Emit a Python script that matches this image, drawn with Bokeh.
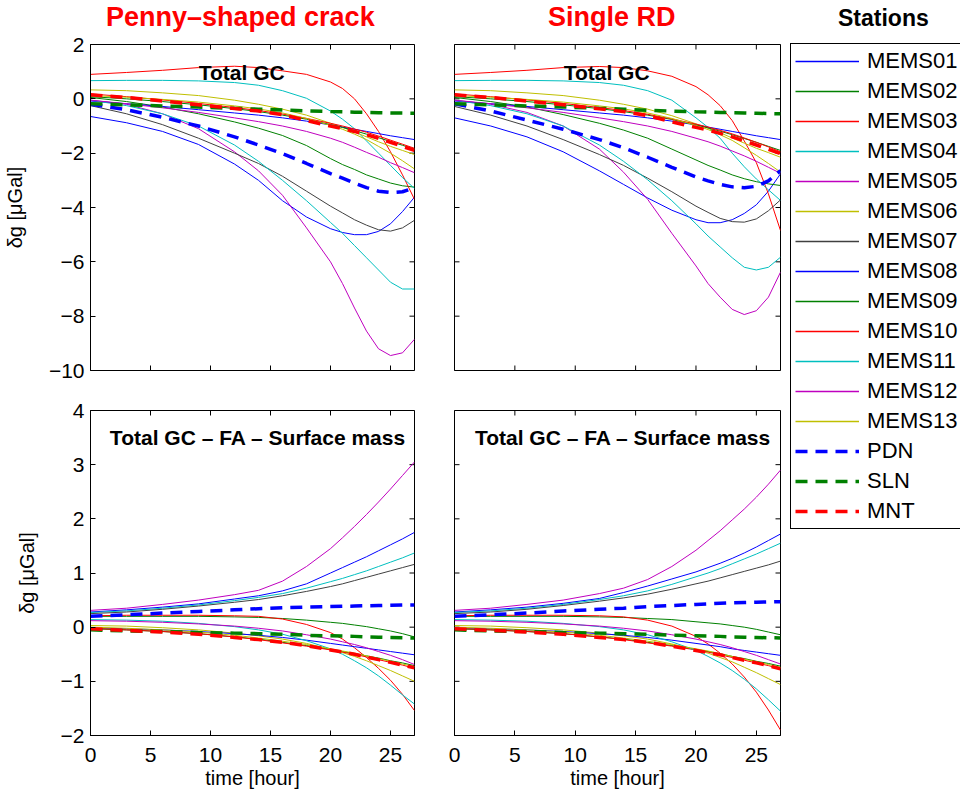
import math
from bokeh.plotting import figure
from bokeh.models import Range1d, FixedTicker, CustomJSTickFormatter, Label, Legend, LegendItem, Div
from bokeh.layouts import row, column
from bokeh.embed import file_html
from bokeh.resources import INLINE
from bokeh.core.properties import value

# ---------------- data ----------------
hours = [0, 3, 6, 9, 12, 14, 16, 18, 20, 21, 22, 23, 24, 25, 26, 27]

stations = ["MEMS01", "MEMS02", "MEMS03", "MEMS04", "MEMS05", "MEMS06", "MEMS07",
            "MEMS08", "MEMS09", "MEMS10", "MEMS11", "MEMS12", "MEMS13", "PDN", "SLN", "MNT"]
station_colors = ["#0000ff", "#008000", "#ff0000", "#00bfbf", "#bf00bf", "#bfbf00", "#404040",
                  "#0000ff", "#008000", "#ff0000", "#00bfbf", "#bf00bf", "#bfbf00",
                  "#0000ff", "#008000", "#ff0000"]
station_dashed = [False] * 13 + [True] * 3

x_ticks = [0, 5, 10, 15, 20, 25]
top_y_ticks = [-10, -8, -6, -4, -2, 0, 2]
bottom_y_ticks = [-2, -1, 0, 1, 2, 3, 4]

column_titles = ["Penny\u2013shaped crack", "Single RD"]
legend_title = "Stations"
top_note = "Total GC"
bottom_note = "Total GC \u2013 FA \u2013 Surface mass"
x_label = "time [hour]"
y_label = "\u03b4g [\u03bcGal]"

penny_total = {
    "MEMS01": [-0.65, -0.88, -1.2, -1.68, -2.4, -3.0, -3.75, -4.35, -4.78, -4.92, -5.0, -5.0, -4.88, -4.6, -4.15, -3.62],
    "MEMS02": [0.05, -0.1, -0.3, -0.55, -0.85, -1.08, -1.35, -1.72, -2.2, -2.42, -2.6, -2.8, -2.95, -3.1, -3.2, -3.25],
    "MEMS03": [0.9, 0.97, 1.05, 1.15, 1.2, 1.15, 1.03, 0.9, 0.62, 0.38, 0.0, -0.55, -1.2, -1.95, -2.8, -3.7],
    "MEMS04": [0.67, 0.68, 0.68, 0.66, 0.6, 0.5, 0.3, 0.02, -0.45, -0.75, -1.1, -1.55, -2.0, -2.45, -2.9, -3.3],
    "MEMS05": [-0.05, -0.2, -0.55, -1.1, -1.95, -2.65, -3.55, -4.75, -6.0, -6.8, -7.7, -8.55, -9.2, -9.45, -9.35, -8.85],
    "MEMS06": [0.33, 0.3, 0.22, 0.12, -0.05, -0.2, -0.38, -0.6, -0.9, -1.05, -1.22, -1.4, -1.58, -1.75, -1.9, -2.05],
    "MEMS07": [-0.25, -0.55, -0.95, -1.45, -2.0, -2.38, -2.85, -3.4, -3.95, -4.2, -4.45, -4.65, -4.82, -4.87, -4.75, -4.47],
    "MEMS08": [-0.08, -0.18, -0.28, -0.4, -0.52, -0.6, -0.7, -0.82, -0.96, -1.04, -1.12, -1.2, -1.28, -1.36, -1.43, -1.5],
    "MEMS09": [0.08, 0.0, -0.1, -0.22, -0.36, -0.47, -0.6, -0.75, -0.95, -1.05, -1.17, -1.3, -1.43, -1.57, -1.71, -1.85],
    "MEMS10": [0.18, 0.08, -0.04, -0.17, -0.32, -0.43, -0.56, -0.72, -0.9, -1.0, -1.11, -1.23, -1.37, -1.52, -1.67, -1.82],
    "MEMS11": [-0.05, -0.25, -0.55, -1.0, -1.7, -2.3, -3.0, -3.75, -4.55, -4.95, -5.4, -5.85, -6.3, -6.75, -7.0, -7.0],
    "MEMS12": [-0.05, -0.18, -0.33, -0.5, -0.7, -0.84, -1.0, -1.2, -1.45, -1.6, -1.78, -1.97, -2.15, -2.35, -2.53, -2.72],
    "MEMS13": [0.12, 0.06, -0.02, -0.12, -0.26, -0.37, -0.52, -0.72, -0.98, -1.12, -1.3, -1.5, -1.75, -2.0, -2.28, -2.58],
    "PDN": [-0.2, -0.4, -0.68, -1.0, -1.4, -1.7, -2.02, -2.38, -2.75, -2.92, -3.1, -3.27, -3.4, -3.45, -3.42, -3.27],
    "SLN": [-0.18, -0.22, -0.26, -0.3, -0.35, -0.38, -0.41, -0.44, -0.47, -0.48, -0.49, -0.5, -0.51, -0.52, -0.525, -0.53],
    "MNT": [0.15, 0.05, -0.08, -0.22, -0.36, -0.45, -0.58, -0.8, -1.0, -1.1, -1.2, -1.32, -1.45, -1.6, -1.75, -1.9],
}

rd_total = {
    "MEMS01": [-0.7, -1.0, -1.4, -1.95, -2.65, -3.15, -3.65, -4.1, -4.45, -4.56, -4.56, -4.45, -4.22, -3.9, -3.4, -2.76],
    "MEMS02": [0.05, -0.1, -0.3, -0.58, -0.9, -1.15, -1.45, -1.85, -2.25, -2.45, -2.62, -2.8, -2.94, -3.05, -3.13, -3.19],
    "MEMS03": [0.9, 0.97, 1.05, 1.15, 1.19, 1.15, 1.03, 0.83, 0.45, 0.15, -0.25, -0.8, -1.55, -2.35, -3.5, -4.85],
    "MEMS04": [0.67, 0.68, 0.68, 0.66, 0.6, 0.5, 0.3, -0.05, -0.7, -1.05, -1.45, -2.0, -2.5, -2.95, -3.35, -3.74],
    "MEMS05": [-0.05, -0.2, -0.5, -1.0, -1.85, -2.7, -3.7, -4.95, -6.15, -6.8, -7.3, -7.75, -7.94, -7.8, -7.3, -6.38],
    "MEMS06": [0.33, 0.3, 0.22, 0.12, -0.05, -0.2, -0.38, -0.62, -0.92, -1.08, -1.25, -1.44, -1.63, -1.82, -1.98, -2.15],
    "MEMS07": [-0.28, -0.6, -1.0, -1.5, -2.05, -2.45, -2.92, -3.42, -3.95, -4.18, -4.4, -4.52, -4.54, -4.42, -4.12, -3.72],
    "MEMS08": [-0.08, -0.18, -0.28, -0.4, -0.52, -0.6, -0.7, -0.82, -0.96, -1.04, -1.12, -1.2, -1.28, -1.36, -1.43, -1.5],
    "MEMS09": [0.08, 0.0, -0.1, -0.22, -0.36, -0.47, -0.6, -0.76, -0.96, -1.07, -1.19, -1.32, -1.46, -1.6, -1.75, -1.9],
    "MEMS10": [0.18, 0.08, -0.04, -0.17, -0.32, -0.43, -0.57, -0.74, -0.93, -1.04, -1.16, -1.29, -1.44, -1.6, -1.77, -1.95],
    "MEMS11": [-0.05, -0.25, -0.55, -1.0, -1.7, -2.3, -2.98, -3.75, -4.6, -5.05, -5.45, -5.85, -6.2, -6.3, -6.2, -5.83],
    "MEMS12": [-0.05, -0.18, -0.33, -0.5, -0.7, -0.84, -1.0, -1.2, -1.45, -1.58, -1.74, -1.92, -2.1, -2.3, -2.52, -2.74],
    "MEMS13": [0.12, 0.06, -0.02, -0.12, -0.26, -0.37, -0.52, -0.72, -0.98, -1.13, -1.32, -1.53, -1.8, -2.08, -2.38, -2.7],
    "PDN": [-0.18, -0.45, -0.78, -1.12, -1.5, -1.8, -2.15, -2.52, -2.88, -3.02, -3.15, -3.24, -3.27, -3.22, -3.02, -2.64],
    "SLN": [-0.18, -0.22, -0.26, -0.3, -0.35, -0.38, -0.42, -0.45, -0.48, -0.49, -0.5, -0.51, -0.52, -0.53, -0.54, -0.55],
    "MNT": [0.15, 0.05, -0.08, -0.22, -0.37, -0.47, -0.62, -0.85, -1.05, -1.15, -1.27, -1.4, -1.55, -1.7, -1.86, -2.02],
}

penny_corr = {
    "MEMS01": [0.28, 0.32, 0.37, 0.43, 0.52, 0.58, 0.67, 0.8, 1.0, 1.1, 1.2, 1.3, 1.41, 1.52, 1.63, 1.75],
    "MEMS02": [0.2, 0.2, 0.2, 0.2, 0.19, 0.18, 0.16, 0.13, 0.09, 0.07, 0.04, 0.01, -0.03, -0.07, -0.12, -0.18],
    "MEMS03": [0.21, 0.22, 0.22, 0.22, 0.21, 0.2, 0.15, 0.05, -0.1, -0.22, -0.38, -0.56, -0.76, -0.98, -1.24, -1.54],
    "MEMS04": [0.27, 0.3, 0.35, 0.41, 0.49, 0.55, 0.62, 0.72, 0.84, 0.9, 0.97, 1.04, 1.12, 1.2, 1.28, 1.37],
    "MEMS05": [0.31, 0.35, 0.42, 0.5, 0.6, 0.68, 0.85, 1.12, 1.45, 1.65, 1.86, 2.08, 2.31, 2.55, 2.8, 3.05],
    "MEMS06": [0.03, 0.02, -0.01, -0.05, -0.11, -0.16, -0.22, -0.3, -0.41, -0.47, -0.54, -0.62, -0.71, -0.8, -0.9, -1.0],
    "MEMS07": [0.25, 0.28, 0.33, 0.39, 0.46, 0.51, 0.58, 0.66, 0.75, 0.8, 0.86, 0.92, 0.98, 1.04, 1.1, 1.16],
    "MEMS08": [-0.01, -0.03, -0.05, -0.08, -0.12, -0.15, -0.19, -0.24, -0.3, -0.33, -0.36, -0.39, -0.42, -0.45, -0.48, -0.51],
    "MEMS09": [-0.03, -0.05, -0.08, -0.12, -0.18, -0.22, -0.28, -0.34, -0.41, -0.45, -0.49, -0.53, -0.57, -0.62, -0.66, -0.71],
    "MEMS10": [-0.02, -0.05, -0.08, -0.12, -0.18, -0.23, -0.29, -0.35, -0.42, -0.46, -0.5, -0.55, -0.6, -0.65, -0.7, -0.76],
    "MEMS11": [0.14, 0.13, 0.11, 0.07, 0.01, -0.05, -0.13, -0.25, -0.4, -0.5, -0.62, -0.75, -0.9, -1.07, -1.25, -1.42],
    "MEMS12": [0.12, 0.11, 0.09, 0.06, 0.02, -0.02, -0.07, -0.14, -0.22, -0.27, -0.32, -0.38, -0.45, -0.52, -0.6, -0.69],
    "MEMS13": [0.0, -0.02, -0.05, -0.09, -0.15, -0.2, -0.26, -0.32, -0.4, -0.44, -0.48, -0.53, -0.58, -0.63, -0.68, -0.73],
    "PDN": [0.2, 0.23, 0.26, 0.29, 0.32, 0.34, 0.36, 0.37, 0.38, 0.385, 0.39, 0.395, 0.4, 0.405, 0.41, 0.41],
    "SLN": [-0.05, -0.07, -0.08, -0.1, -0.11, -0.12, -0.13, -0.15, -0.16, -0.165, -0.17, -0.18, -0.185, -0.19, -0.195, -0.2],
    "MNT": [-0.03, -0.06, -0.09, -0.13, -0.19, -0.23, -0.28, -0.34, -0.42, -0.46, -0.5, -0.55, -0.6, -0.65, -0.7, -0.75],
}

rd_corr = {
    "MEMS01": [0.28, 0.32, 0.37, 0.44, 0.53, 0.64, 0.76, 0.89, 1.02, 1.1, 1.18, 1.27, 1.37, 1.48, 1.6, 1.72],
    "MEMS02": [0.2, 0.2, 0.2, 0.2, 0.19, 0.18, 0.16, 0.14, 0.1, 0.08, 0.06, 0.03, 0.0, -0.04, -0.09, -0.14],
    "MEMS03": [0.21, 0.22, 0.22, 0.22, 0.21, 0.19, 0.13, 0.02, -0.17, -0.31, -0.48, -0.68, -0.92, -1.2, -1.53, -1.9],
    "MEMS04": [0.27, 0.3, 0.35, 0.42, 0.51, 0.58, 0.67, 0.79, 0.93, 1.0, 1.08, 1.17, 1.26, 1.35, 1.45, 1.55],
    "MEMS05": [0.31, 0.35, 0.42, 0.5, 0.62, 0.72, 0.88, 1.12, 1.42, 1.6, 1.78, 1.98, 2.18, 2.4, 2.64, 2.9],
    "MEMS06": [0.03, 0.02, -0.01, -0.05, -0.11, -0.16, -0.22, -0.31, -0.42, -0.48, -0.56, -0.64, -0.74, -0.84, -0.95, -1.06],
    "MEMS07": [0.25, 0.28, 0.33, 0.4, 0.48, 0.54, 0.61, 0.7, 0.8, 0.85, 0.91, 0.97, 1.03, 1.09, 1.15, 1.22],
    "MEMS08": [-0.01, -0.03, -0.05, -0.08, -0.12, -0.15, -0.19, -0.24, -0.3, -0.33, -0.36, -0.4, -0.43, -0.46, -0.49, -0.52],
    "MEMS09": [-0.03, -0.05, -0.08, -0.12, -0.18, -0.22, -0.28, -0.34, -0.41, -0.45, -0.49, -0.54, -0.58, -0.63, -0.67, -0.72],
    "MEMS10": [-0.02, -0.05, -0.08, -0.12, -0.18, -0.23, -0.29, -0.35, -0.42, -0.46, -0.51, -0.56, -0.61, -0.66, -0.71, -0.77],
    "MEMS11": [0.14, 0.13, 0.11, 0.07, 0.01, -0.05, -0.14, -0.27, -0.43, -0.54, -0.66, -0.8, -0.96, -1.14, -1.34, -1.55],
    "MEMS12": [0.12, 0.11, 0.09, 0.06, 0.02, -0.02, -0.07, -0.14, -0.22, -0.27, -0.32, -0.38, -0.45, -0.52, -0.6, -0.68],
    "MEMS13": [0.0, -0.02, -0.05, -0.09, -0.15, -0.2, -0.26, -0.32, -0.4, -0.44, -0.49, -0.54, -0.59, -0.64, -0.69, -0.74],
    "PDN": [0.2, 0.23, 0.26, 0.3, 0.33, 0.35, 0.38, 0.4, 0.42, 0.43, 0.44, 0.45, 0.455, 0.46, 0.465, 0.47],
    "SLN": [-0.05, -0.07, -0.08, -0.1, -0.11, -0.12, -0.13, -0.15, -0.16, -0.165, -0.17, -0.18, -0.185, -0.19, -0.195, -0.2],
    "MNT": [-0.03, -0.06, -0.09, -0.13, -0.19, -0.23, -0.28, -0.35, -0.43, -0.47, -0.51, -0.56, -0.61, -0.66, -0.71, -0.77],
}

# ---------------- styling ----------------
FONT = "Liberation Sans"
X_MAX = 27
MINUS_FMT = "return tick < 0 ? '\\u2212' + Math.abs(tick) : String(tick);"
DASH = "12 8"
HEAD_H = 33            # height of the html strip carrying the titles


def edge_ticks(p, xs, ys):
    p.scatter(x=xs, y=ys, marker="dash", size=10, angle=0,
              line_color="black", line_width=1)


def edge_ticks_v(p, xs, ys):
    p.scatter(x=xs, y=ys, marker="dash", size=10, angle=math.pi / 2,
              line_color="black", line_width=1)


def head(width, text, indent, size, line_h, color):
    return Div(text=text, width=width, height=HEAD_H, margin=(0, 0, 0, 0),
               styles={"font-family": FONT, "font-size": size, "font-weight": "bold",
                       "color": color, "line-height": line_h,
                       "text-indent": indent, "white-space": "nowrap",
                       "overflow": "visible"})


def make_panel(data, y_lo, y_hi, y_ticks, width, height, borders,
               show_x, show_y, note, note_x, note_y):
    p = figure(width=width, height=height, title=None,
               x_range=Range1d(0, X_MAX), y_range=Range1d(y_lo, y_hi),
               output_backend="svg", toolbar_location=None,
               min_border_left=borders[0], min_border_right=borders[1],
               min_border_top=borders[2], min_border_bottom=borders[3])
    p.background_fill_color = "white"
    p.border_fill_color = "white"
    p.xgrid.visible = False
    p.ygrid.visible = False
    p.outline_line_color = "black"
    p.outline_line_width = 1
    p.outline_line_alpha = 1.0

    xa = p.xaxis[0]
    ya = p.yaxis[0]
    xa.ticker = FixedTicker(ticks=x_ticks)
    ya.ticker = FixedTicker(ticks=y_ticks)
    for ax in (xa, ya):
        ax.major_tick_in = 5
        ax.major_tick_out = 0
        ax.minor_tick_line_color = None
        ax.axis_line_color = "black"
        ax.major_tick_line_color = "black"
        ax.major_label_text_font = FONT
        ax.major_label_text_font_size = "21px"
        ax.major_label_text_color = "black"
        ax.axis_label_text_font = FONT
        ax.axis_label_text_font_size = "20px"
        ax.axis_label_text_font_style = "normal"
        ax.axis_label_text_color = "black"
        ax.formatter = CustomJSTickFormatter(code=MINUS_FMT)
    xa.major_label_standoff = 12
    xa.axis_label_standoff = 2
    ya.major_label_standoff = 6
    ya.axis_label_standoff = 20

    if show_x:
        xa.axis_label = x_label
    else:
        xa.visible = False
        edge_ticks_v(p, x_ticks, [y_lo] * len(x_ticks))
    if show_y:
        ya.axis_label = y_label
    else:
        ya.visible = False
        edge_ticks(p, [0] * len(y_ticks), y_ticks)
    # ticks on top and right edges (box on)
    edge_ticks_v(p, x_ticks, [y_hi] * len(x_ticks))
    edge_ticks(p, [X_MAX] * len(y_ticks), y_ticks)

    for name, color, dashed in zip(stations, station_colors, station_dashed):
        if dashed:
            p.line(hours, data[name], line_color=color, line_width=3.5, line_dash=DASH)
        else:
            p.line(hours, data[name], line_color=color, line_width=1)

    p.add_layout(Label(x=note_x, y=note_y, text=note, text_align="center",
                       text_baseline="middle", text_font=FONT,
                       text_font_size="21px", text_font_style="bold",
                       text_color="black"))
    return p


h_left = head(434, column_titles[0], "106px", "27px", "35px", "#ff0000")
h_right = head(356, column_titles[1], "114px", "27px", "35px", "#ff0000")
h_leg = head(170, legend_title, "48px", "23px", "36px", "black")

p_tl = make_panel(penny_total, -10, 2, top_y_ticks, 434, 357, (88, 20, 11, 20),
                  False, True, top_note, 12.6, 0.98)
p_tr = make_panel(rd_total, -10, 2, top_y_ticks, 356, 357, (20, 10, 11, 20),
                  False, False, top_note, 12.6, 0.98)
p_bl = make_panel(penny_corr, -2, 4, bottom_y_ticks, 434, 406, (88, 20, 20, 61),
                  True, True, bottom_note, 13.95, 3.5)
p_br = make_panel(rd_corr, -2, 4, bottom_y_ticks, 356, 406, (20, 10, 20, 61),
                  True, False, bottom_note, 13.95, 3.5)

# ---------------- legend panel ----------------
# the station lines are drawn here outside the visible ranges, only to feed the legend
lf = figure(width=170, height=763, title=None, output_backend="svg", toolbar_location=None,
            x_range=Range1d(1000, 1001), y_range=Range1d(1000, 1001),
            x_axis_type=None, y_axis_type=None,
            min_border_left=0, min_border_right=0, min_border_top=10, min_border_bottom=0)
lf.outline_line_color = None
lf.background_fill_color = "white"
lf.border_fill_color = "white"

items = []
for name, color, dashed in zip(stations, station_colors, station_dashed):
    if dashed:
        r = lf.line(hours, penny_total[name], line_color=color, line_width=3.5, line_dash=DASH)
    else:
        r = lf.line(hours, penny_total[name], line_color=color, line_width=1.5)
    items.append(LegendItem(label=value(name), renderers=[r]))

leg = Legend(items=items, location="top_left", margin=0, padding=4, spacing=4,
             glyph_width=64, glyph_height=24, label_height=24, label_standoff=8,
             label_text_font=FONT, label_text_font_size="22px", label_text_color="black",
             border_line_color="black", border_line_width=1, border_line_alpha=1.0,
             background_fill_color="white", background_fill_alpha=1.0)
lf.add_layout(leg)

layout = row(column(h_left, p_tl, p_bl), column(h_right, p_tr, p_br), column(h_leg, lf))

with open("out.html", "w", encoding="utf-8") as f:
    f.write(file_html(layout, INLINE))
